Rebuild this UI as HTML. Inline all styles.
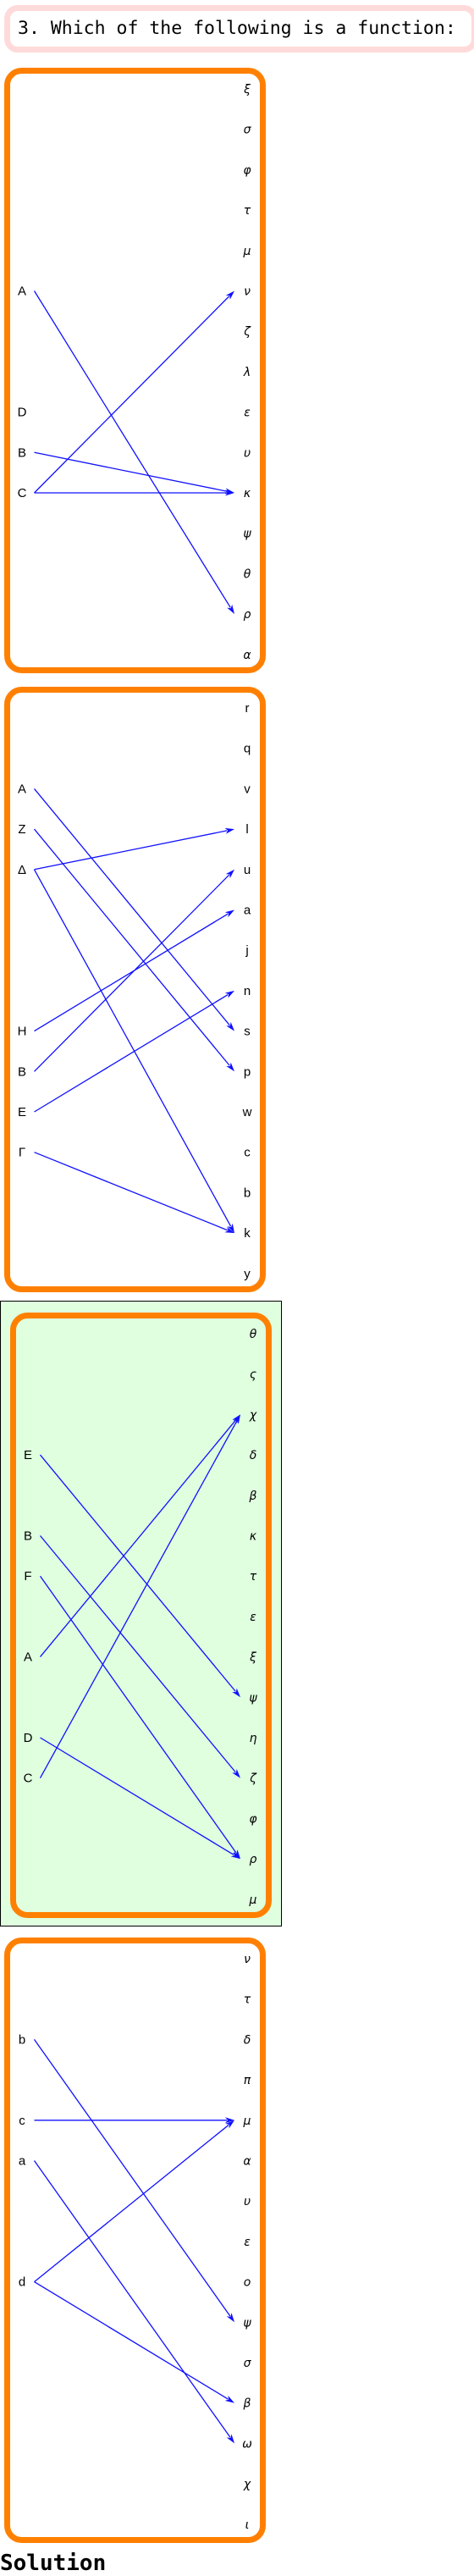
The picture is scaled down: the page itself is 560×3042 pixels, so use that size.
<!DOCTYPE html>
<html><head><meta charset="utf-8">
<style>
html,body{margin:0;padding:0;background:#fff;}
body{width:560px;height:3041px;position:relative;overflow:hidden;}
#title{position:absolute;left:5px;top:6px;width:536px;height:42px;border:7px solid #ffdada;border-radius:16px;font-family:"DejaVu Sans Mono","Liberation Mono",monospace;font-size:21.5px;line-height:42px;padding-left:9px;color:#000;white-space:nowrap;overflow:hidden;}
#sol{position:absolute;left:0;top:3012px;font-family:"DejaVu Sans Mono","Liberation Mono",monospace;font-weight:bold;font-size:26px;line-height:30px;}
svg{position:absolute;left:0;top:0;}
</style></head>
<body>
<div id="title">3. Which of the following is a function:</div>
<svg id="svg" width="560" height="3041"></svg>
<div id="sol">Solution</div>
<script>
const c1Right=["ξ","σ","φ","τ","μ","ν","ζ","λ","ε","υ","κ","ψ","θ","ρ","α"];
const c1Left=["A","D","B","C"];
const c1LeftRow=[5,8,9,10];
const c1From=["A","B","C","C"];
const c1To=["ρ","κ","ν","κ"];

const c2Right=["r","q","v","l","u","a","j","n","s","p","w","c","b","k","y"];
const c2Left=["A","Z","Δ","H","B","E","Γ"];
const c2LeftRow=[2,3,4,8,9,10,11];
const c2From=["A","Z","Δ","Δ","H","B","E","Γ"];
const c2To=["s","p","l","k","a","u","n","k"];

const c3Right=["θ","ς","χ","δ","β","κ","τ","ε","ξ","ψ","η","ζ","φ","ρ","μ"];
const c3Left=["E","B","F","A","D","C"];
const c3LeftRow=[3,5,6,8,10,11];
const c3From=["E","B","F","A","D","C"];
const c3To=["ψ","ζ","ρ","χ","ρ","χ"];

const c4Right=["ν","τ","δ","π","μ","α","υ","ε","ο","ψ","σ","β","ω","χ","ι"];
const c4Left=["b","c","a","d"];
const c4LeftRow=[2,4,5,8];
const c4From=["b","c","a","d","d"];
const c4To=["ψ","μ","ω","μ","β"];

const NS="http://www.w3.org/2000/svg";
const svg=document.getElementById('svg');
function mk(tag,attrs,parent){const e=document.createElementNS(NS,tag);for(const k in attrs)e.setAttribute(k,attrs[k]);(parent||svg).appendChild(e);return e;}

function chart(idx,right,left,leftRow,from,to,boxTop,dx,green,latin){
  const g=mk('g',{});
  
  
  if(green){
    const bg=mk('rect',{x:0.5,y:boxTop-13.5,width:332,height:738,fill:'#dfffdf',stroke:'#000','stroke-width':1},g);
    
    
  }
  const box=mk('rect',{x:8.5+dx,y:boxTop+3.5,width:302,height:708,rx:17,ry:17,fill:'none',stroke:'#ff8000','stroke-width':7},g);
  
  
  const y0=boxTop+25, step=47.7;
  const rowY=i=>y0+i*step;
  const xL=26+dx, xS=40.5+dx, xE=277+dx, xR=292+dx;
  right.forEach((t,i)=>{
    const e=mk('text',{x:xR,y:rowY(i)+5,'text-anchor':'middle','font-family':latin?'"Liberation Sans",sans-serif':'"DejaVu Sans","Liberation Sans",sans-serif','font-style':latin?'normal':'italic','font-size':latin?15:14,fill:'#000'},g);
    e.textContent=t;
    
    
  });
  const leftY={};
  left.forEach((t,i)=>{
    leftY[t]=rowY(leftRow[i]);
    const e=mk('text',{x:xL,y:rowY(leftRow[i])+5,'text-anchor':'middle','font-family':'"Liberation Sans",sans-serif','font-size':15,fill:'#000'},g);
    e.textContent=t;
    
    
  });
  from.forEach((f,i)=>{
    const ya=leftY[f], yb=rowY(right.indexOf(to[i]));
    const ang=Math.atan2(yb-ya,xE-xS), L=11, W=3.5;
    const bx=xE-L*Math.cos(ang), by=yb-L*Math.sin(ang);
    const ln=mk('line',{x1:xS,y1:ya,x2:bx+2*Math.cos(ang),y2:by+2*Math.sin(ang),stroke:'#1010ff','stroke-width':1.3},g);
    
    
    const px=-Math.sin(ang),py=Math.cos(ang);
    const hd=mk('polygon',{points:`${xE},${yb} ${bx+W*px},${by+W*py} ${bx+3*Math.cos(ang)},${by+3*Math.sin(ang)} ${bx-W*px},${by-W*py}`,fill:'#1010ff'},g);
    
    
  });
}
chart(1,c1Right,c1Left,c1LeftRow,c1From,c1To,80,0,false,false);
chart(2,c2Right,c2Left,c2LeftRow,c2From,c2To,811,0,false,true);
chart(3,c3Right,c3Left,c3LeftRow,c3From,c3To,1550,7,true,false);
chart(4,c4Right,c4Left,c4LeftRow,c4From,c4To,2288,0,false,false);
</script>
</body></html>
